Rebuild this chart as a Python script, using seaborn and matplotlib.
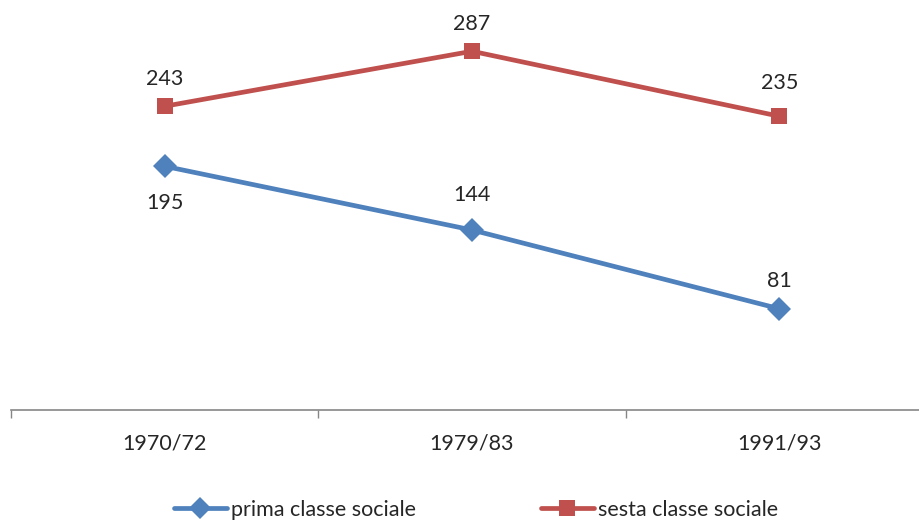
import pandas as pd
import matplotlib.pyplot as plt
import seaborn as sns

periodi = ['1970/72', '1979/83', '1991/93']
prima = [195, 144, 81]
sesta = [243, 287, 235]
serie = ['prima classe sociale', 'sesta classe sociale']

df = pd.DataFrame({
    'periodo': periodi * 2,
    'valore': prima + sesta,
    'classe': [serie[0]] * 3 + [serie[1]] * 3,
})

sns.set_style('white')
plt.rcParams['font.family'] = ['Lato', 'DejaVu Sans']
FS = 15.5

fig = plt.figure(figsize=(9.2, 5.22), dpi=100)
ax = fig.add_axes([11 / 920, 1 - 410 / 522, 922 / 920, 410 / 522])

colori = {serie[0]: '#4F81BD', serie[1]: '#C0504D'}
sns.lineplot(data=df, x='periodo', y='valore', hue='classe', style='classe',
             markers={serie[0]: 'D', serie[1]: 's'}, dashes=False,
             palette=colori, linewidth=3.4, markersize=12, markeredgewidth=0,
             ax=ax, legend=False)

# etichette dei valori
off_prima = [37, -35, -28]
off_sesta = [-27, -27, -33]
for i, p in enumerate(periodi):
    ax.annotate(str(prima[i]), (i, prima[i]), xytext=(0, -off_prima[i]),
                textcoords='offset pixels', ha='center', va='center', fontsize=FS)
    ax.annotate(str(sesta[i]), (i, sesta[i]), xytext=(0, -off_sesta[i]),
                textcoords='offset pixels', ha='center', va='center', fontsize=FS)

ax.set_xlim(-0.5, 2.5)
ax.set_ylim(0, 328)
ax.set_xlabel('')
ax.set_ylabel('')
ax.set_yticks([])
for s in ['top', 'right', 'left']:
    ax.spines[s].set_visible(False)
ax.spines['bottom'].set_color('#868686')
ax.spines['bottom'].set_linewidth(1.2)
ax.set_xticks([-0.5, 0.5, 1.5, 2.5], minor=False)
ax.set_xticklabels([])
ax.tick_params(axis='x', which='major', bottom=True, direction='out',
               length=6, color='#868686', width=1)
ax.set_xticks(range(3), minor=True)
ax.set_xticklabels(periodi, minor=True, fontsize=FS)
ax.tick_params(axis='x', which='minor', bottom=True, length=0, pad=17)

maniglie = [plt.Line2D([], [], color=colori[s], marker=m, linewidth=3.4,
                       markersize=11, markeredgewidth=0)
            for s, m in zip(serie, ['D', 's'])]
fig.legend(maniglie, serie, loc='center', ncol=2, frameon=False,
           fontsize=FS, handlelength=2.45, handletextpad=0.2, columnspacing=5.8,
           bbox_to_anchor=(476 / 920, 1 - 510 / 522))

plt.savefig('out.png', dpi=100)
